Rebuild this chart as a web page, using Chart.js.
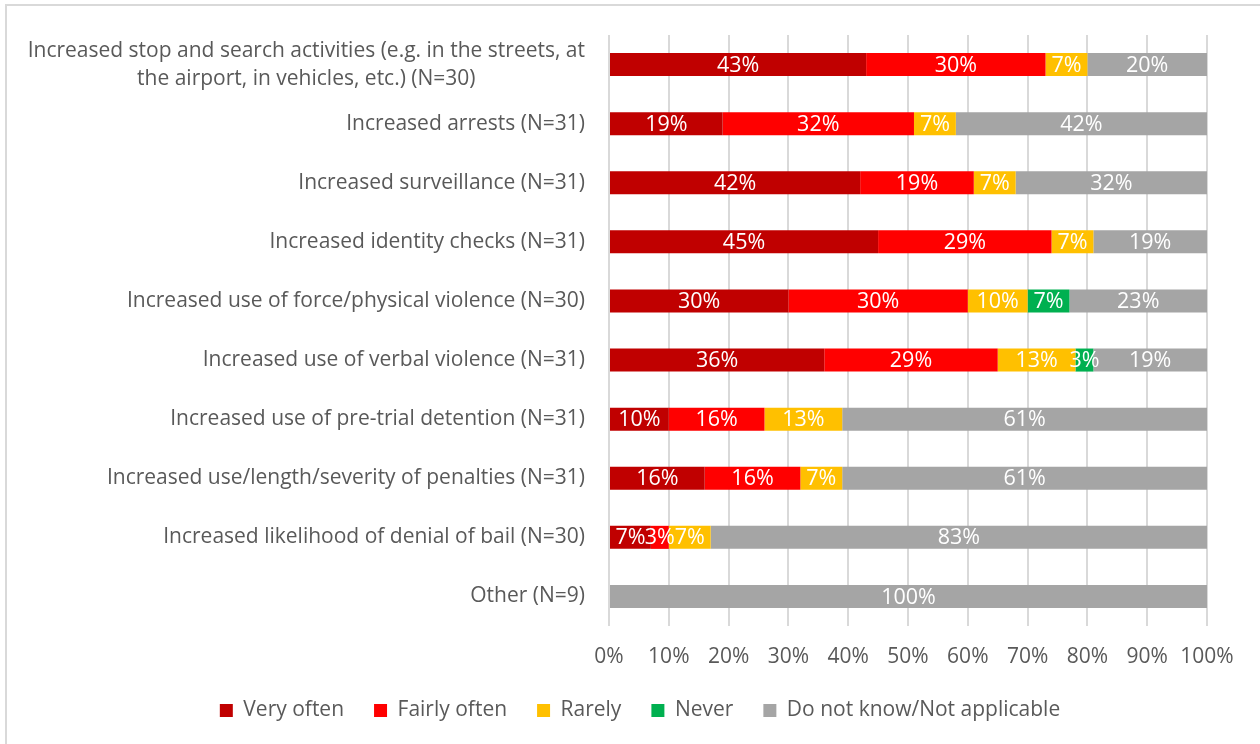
<!DOCTYPE html>
<html>
<head>
<meta charset="utf-8">
<script src="https://cdn.jsdelivr.net/npm/chart.js@4/dist/chart.umd.min.js"></script>
<style>
  html, body { margin: 0; padding: 0; background: #fff; }
  #wrap { position: relative; width: 1260px; height: 744px; overflow: hidden; }
  #frame { position: absolute; left: 5px; top: 4px; width: 1270px; height: 760px; border: 2px solid #d9d9d9; box-sizing: border-box; pointer-events: none; }
</style>
</head>
<body>
<div id="wrap">
  <canvas id="chart" width="1260" height="744"></canvas>
  <div id="frame"></div>
</div>
<script>
const categories = [
  ["Increased stop and search activities (e.g. in the streets, at", "the airport, in vehicles, etc.) (N=30)"],
  ["Increased arrests (N=31)"],
  ["Increased surveillance (N=31)"],
  ["Increased identity checks (N=31)"],
  ["Increased use of force/physical violence (N=30)"],
  ["Increased use of verbal violence (N=31)"],
  ["Increased use of pre-trial detention (N=31)"],
  ["Increased use/length/severity of penalties (N=31)"],
  ["Increased likelihood of denial of bail (N=30)"],
  ["Other (N=9)"]
];

const veryOften   = [43, 19, 42, 45, 30, 36, 10, 16, 7, 0];
const fairlyOften = [30, 32, 19, 29, 30, 29, 16, 16, 3, 0];
const rarely      = [7, 7, 7, 7, 10, 13, 13, 7, 7, 0];
const never       = [0, 0, 0, 0, 7, 3, 0, 0, 0, 0];
const dontKnow    = [20, 42, 32, 19, 23, 19, 61, 61, 83, 100];

const seriesNames = ["Very often", "Fairly often", "Rarely", "Never", "Do not know/Not applicable"];
const xTicks = [0, 10, 20, 30, 40, 50, 60, 70, 80, 90, 100];

const FONT = "'Open Sans', 'Noto Sans', sans-serif";
const GREY_TEXT = "#595959";

// white value labels in the middle of each segment
const segmentLabels = {
  id: "segmentLabels",
  afterDatasetsDraw(chart) {
    const ctx = chart.ctx;
    ctx.save();
    ctx.font = "21.5px " + FONT;
    ctx.fillStyle = "#ffffff";
    ctx.textAlign = "center";
    ctx.textBaseline = "middle";
    chart.data.datasets.forEach((ds, di) => {
      const meta = chart.getDatasetMeta(di);
      meta.data.forEach((bar, i) => {
        const v = ds.data[i];
        if (!v) return;
        const p = bar.getCenterPoint();
        ctx.fillText(v + "%", p.x, p.y + 1);
      });
    });
    ctx.restore();
  }
};

// category names: right-aligned block, lines centred inside the block
const categoryNames = {
  id: "categoryNames",
  afterDraw(chart) {
    const ctx = chart.ctx;
    const yScale = chart.scales.y;
    const right = yScale.right - 24;
    const lineH = 28;
    ctx.save();
    ctx.font = "21px " + FONT;
    ctx.fillStyle = GREY_TEXT;
    ctx.textBaseline = "middle";
    ctx.textAlign = "center";
    categories.forEach((lines, i) => {
      const y = yScale.getPixelForTick(i);
      const w = Math.max(...lines.map((l) => ctx.measureText(l).width));
      const cx = right - w / 2;
      const top = y - ((lines.length - 1) * lineH) / 2;
      lines.forEach((l, k) => ctx.fillText(l, cx, top + k * lineH));
    });
    ctx.restore();
  }
};

const makeSet = (label, data, color) => ({
  label: label,
  data: data,
  backgroundColor: color,
  borderWidth: 0,
  barPercentage: 0.39,
  categoryPercentage: 1
});

new Chart(document.getElementById("chart").getContext("2d"), {
  type: "bar",
  data: {
    labels: categories.map((c) => c.join(" ")),
    datasets: [
      makeSet(seriesNames[0], veryOften, "#C00000"),
      makeSet(seriesNames[1], fairlyOften, "#FF0000"),
      makeSet(seriesNames[2], rarely, "#FFC000"),
      makeSet(seriesNames[3], never, "#00B050"),
      makeSet(seriesNames[4], dontKnow, "#A5A5A5")
    ]
  },
  options: {
    indexAxis: "y",
    responsive: false,
    animation: false,
    layout: { padding: { top: 35, bottom: 13, left: 73, right: 53 } },
    scales: {
      x: {
        stacked: true,
        min: 0,
        max: 100,
        afterBuildTicks: (axis) => {
          axis.ticks = xTicks.map((v) => ({ value: v }));
        },
        afterFit: (axis) => { axis.height = 44; },
        grid: { color: "#d9d9d9", lineWidth: 2, drawTicks: false },
        border: { display: false },
        ticks: {
          padding: 18,
          color: GREY_TEXT,
          font: { family: FONT, size: 21 },
          autoSkip: false,
          maxRotation: 0,
          minRotation: 0,
          callback: (v) => v + "%"
        }
      },
      y: {
        stacked: true,
        afterFit: (axis) => { axis.width = 609 - 73; },
        grid: { display: false },
        border: { display: false },
        ticks: { display: false }
      }
    },
    plugins: {
      legend: {
        position: "bottom",
        labels: {
          color: GREY_TEXT,
          font: { family: FONT, size: 21 },
          boxWidth: 13,
          boxHeight: 13,
          padding: 30
        }
      },
      tooltip: { enabled: false }
    }
  },
  plugins: [segmentLabels, categoryNames]
});
</script>
</body>
</html>
